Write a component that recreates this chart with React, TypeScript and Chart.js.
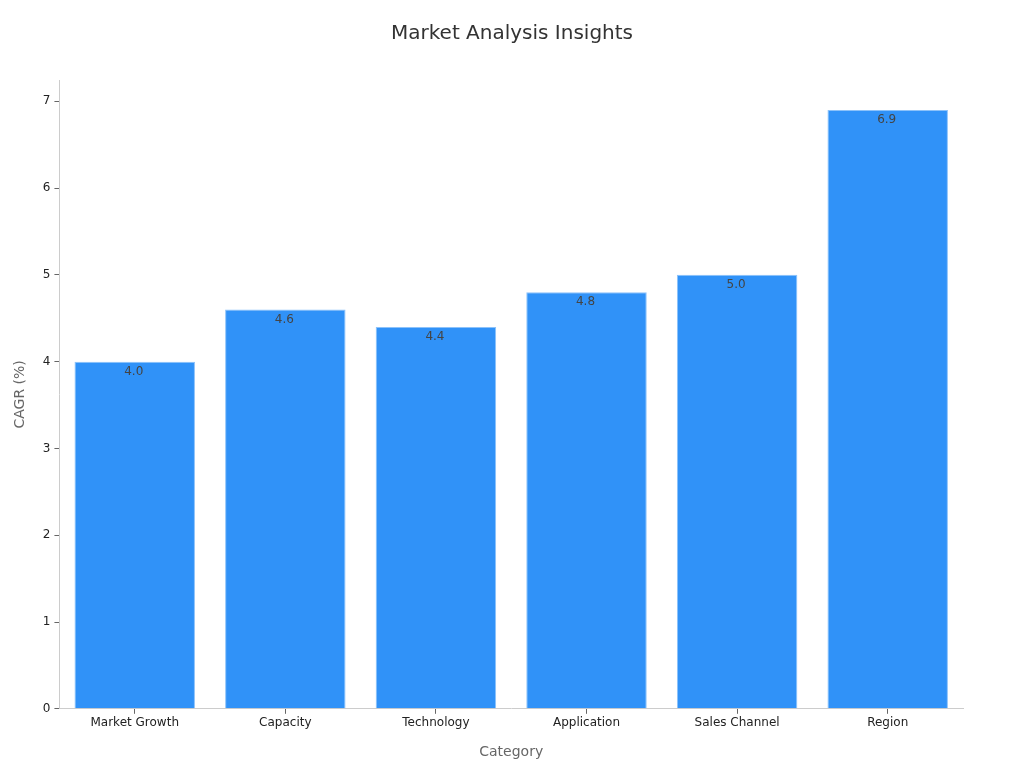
import React, { useEffect, useRef } from "react";
import { Chart, registerables } from "chart.js";

Chart.register(...registerables);

const categories = ["Market Growth", "Capacity", "Technology", "Application", "Sales Channel", "Region"];
const cagrValues = [4.0, 4.6, 4.4, 4.8, 5.0, 6.9];
const yTicks = [0, 1, 2, 3, 4, 5, 6, 7];
const titleText = "Market Analysis Insights";

const FONT = "'DejaVu Sans', sans-serif";

const valueLabels = {
  id: "valueLabels",
  afterDatasetsDraw(chart: any) {
    const ctx = chart.ctx;
    const meta = chart.getDatasetMeta(0);
    ctx.save();
    ctx.font = `12px ${FONT}`;
    ctx.fillStyle = "#444444";
    ctx.textAlign = "center";
    ctx.textBaseline = "middle";
    meta.data.forEach((bar: any, i: number) => {
      ctx.fillText(cagrValues[i].toFixed(1), bar.x - 1, bar.y + 10);
    });
    ctx.restore();
  },
};

const centeredTitle = {
  id: "centeredTitle",
  afterDraw(chart: any) {
    const ctx = chart.ctx;
    ctx.save();
    ctx.font = `20px ${FONT}`;
    ctx.fillStyle = "#333333";
    ctx.textAlign = "center";
    ctx.textBaseline = "middle";
    ctx.fillText(titleText, chart.width / 2, 34);
    ctx.restore();
  },
};

export default function App() {
  const ref = useRef<HTMLCanvasElement>(null);
  useEffect(() => {
    if (!ref.current) return;
    const chart = new Chart(ref.current, {
      type: "bar",
      data: {
        labels: categories,
        datasets: [
          {
            data: cagrValues,
            backgroundColor: "#3092f8",
            borderColor: "#8cc2fa",
            borderWidth: 1,
            barPercentage: 0.8,
            categoryPercentage: 1.0,
          },
        ],
      },
      options: {
        responsive: false,
        animation: false,
        layout: { padding: { left: 12, right: 61, top: 80, bottom: 7 } },
        plugins: {
          legend: { display: false },
          tooltip: { enabled: false },
          title: { display: false },
        },
        scales: {
          x: {
            grid: { display: true, drawOnChartArea: false, tickLength: 5, color: "#666666", offset: false },
            border: { color: "#cccccc" },
            ticks: { color: "#222222", font: { family: FONT, size: 12 }, padding: 2 },
            title: {
              display: true,
              text: "Category",
              color: "#666666",
              font: { family: FONT, size: 14 },
              padding: { top: 12, bottom: 0 },
            },
          },
          y: {
            min: 0,
            max: 7.245,
            afterBuildTicks: (axis: any) => {
              axis.ticks = yTicks.map((v) => ({ value: v }));
            },
            grid: { display: true, drawOnChartArea: false, tickLength: 5, color: "#666666" },
            border: { color: "#cccccc" },
            ticks: { color: "#222222", font: { family: FONT, size: 12 }, padding: 4 },
            title: {
              display: true,
              text: "CAGR (%)",
              color: "#666666",
              font: { family: FONT, size: 14 },
              padding: { top: 0, bottom: 10 },
            },
          },
        },
      },
      plugins: [valueLabels, centeredTitle],
    });
    return () => chart.destroy();
  }, []);
  return (
    <div style={{ position: "absolute", left: 0, top: 0, width: 1024, height: 768, background: "#fff" }}>
      <canvas ref={ref} width={1024} height={768} />
    </div>
  );
}
